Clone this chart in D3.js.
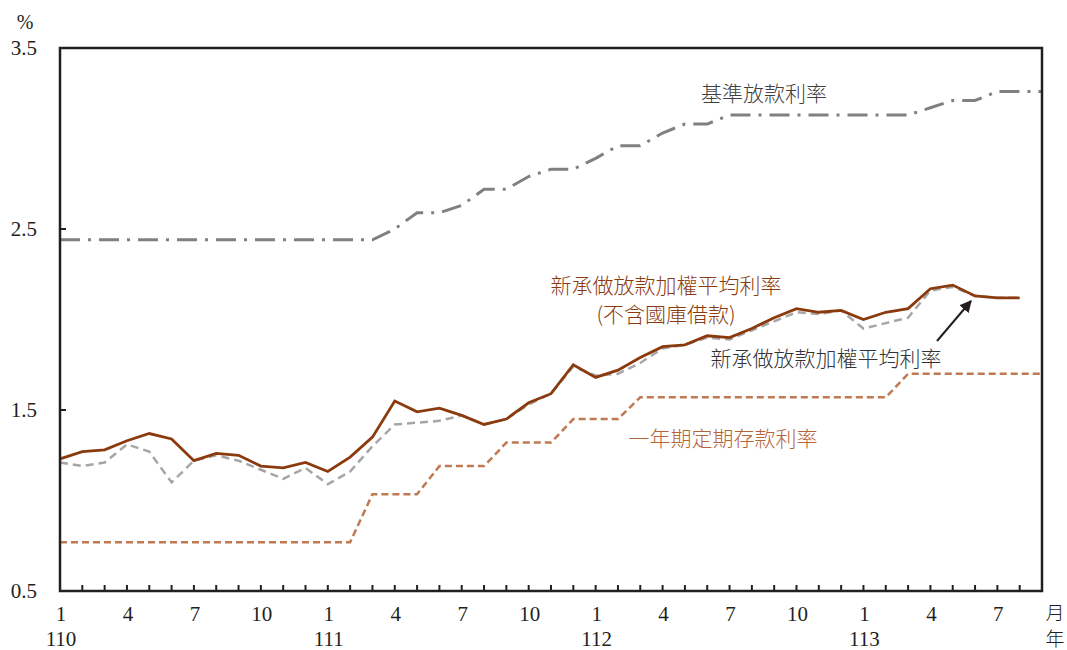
<!DOCTYPE html>
<html>
<head>
<meta charset="utf-8">
<script src="https://cdn.jsdelivr.net/npm/d3@7"></script>
<style>
  body { margin: 0; background: #fff; }
  svg text { font-family: "Liberation Serif", "Noto Sans CJK TC", serif; }
  .cjk { font-family: "Noto Sans CJK TC", sans-serif; font-weight: 300; }
</style>
</head>
<body>
<script>
// interest rate chart, 110/1 - 113/8

// months of each period (index = position on x axis)
var months = [1,2,3,4,5,6,7,8,9,10,11,12,
              1,2,3,4,5,6,7,8,9,10,11,12,
              1,2,3,4,5,6,7,8,9,10,11,12,
              1,2,3,4,5,6,7,8,9];
var years = [110,110,110,110,110,110,110,110,110,110,110,110,
             111,111,111,111,111,111,111,111,111,111,111,111,
             112,112,112,112,112,112,112,112,112,112,112,112,
             113,113,113,113,113,113,113,113,113];
var monthTicks = [1, 4, 7, 10];
var yTicks = [0.5, 1.5, 2.5, 3.5];

// 新承做放款加權平均利率(不含國庫借款)
var newLoanExTreasury = [1.23,1.27,1.28,1.33,1.37,1.34,1.22,1.26,1.25,1.19,1.18,1.21,
                         1.16,1.24,1.35,1.55,1.49,1.51,1.47,1.42,1.45,1.54,1.59,1.75,
                         1.68,1.72,1.79,1.85,1.86,1.91,1.90,1.95,2.01,2.06,2.04,2.05,
                         2.00,2.04,2.06,2.17,2.19,2.13,2.12,2.12];
// 新承做放款加權平均利率
var newLoan = [1.21,1.19,1.21,1.31,1.27,1.10,1.22,1.25,1.22,1.17,1.12,1.18,
               1.09,1.16,1.30,1.42,1.43,1.44,1.47,1.42,1.45,1.53,1.59,1.74,
               1.69,1.70,1.76,1.84,1.86,1.90,1.89,1.94,1.99,2.04,2.03,2.05,
               1.95,1.98,2.01,2.16,2.18,2.13,2.12,2.12];
// 基準放款利率
var baseRate = [2.44,2.44,2.44,2.44,2.44,2.44,2.44,2.44,2.44,2.44,2.44,2.44,
                2.44,2.44,2.44,2.50,2.59,2.59,2.63,2.72,2.72,2.79,2.83,2.83,
                2.89,2.96,2.96,3.03,3.08,3.08,3.13,3.13,3.13,3.13,3.13,3.13,
                3.13,3.13,3.13,3.17,3.21,3.21,3.26,3.26,3.26];
// 一年期定期存款利率
var depositRate = [0.77,0.77,0.77,0.77,0.77,0.77,0.77,0.77,0.77,0.77,0.77,0.77,
                   0.77,0.77,1.035,1.035,1.035,1.19,1.19,1.19,1.32,1.32,1.32,1.45,
                   1.45,1.45,1.57,1.57,1.57,1.57,1.57,1.57,1.57,1.57,1.57,1.57,
                   1.57,1.57,1.70,1.70,1.70,1.70,1.70,1.70,1.70];

var width = 1067,
    height = 650;
var plotLeft = 60, plotRight = 1042, plotTop = 48, plotBottom = 591;

var svg = d3.select("body")
    .append("svg")
    .attr("width", width)
    .attr("height", height);

var x = d3.scaleLinear()
    .domain([0, 44])
    .range([plotLeft, plotRight]);

var y = d3.scaleLinear()
    .domain([0.5, 3.5])
    .range([plotBottom, plotTop]);

var line = d3.line()
    .x(function(d, i){ return x(i); })
    .y(function(d){ return y(d); });

// series lines
svg.append("path")
    .datum(baseRate)
    .attr("d", line)
    .attr("fill", "none")
    .attr("stroke", "#808080")
    .attr("stroke-width", 3)
    .attr("stroke-dasharray", "20,8,3,8");

svg.append("path")
    .datum(depositRate)
    .attr("d", line)
    .attr("fill", "none")
    .attr("stroke", "#BF7A52")
    .attr("stroke-width", 2.5)
    .attr("stroke-dasharray", "7,4");

svg.append("path")
    .datum(newLoan)
    .attr("d", line)
    .attr("fill", "none")
    .attr("stroke", "#A6A6A6")
    .attr("stroke-width", 2.5)
    .attr("stroke-dasharray", "8,5");

svg.append("path")
    .datum(newLoanExTreasury)
    .attr("d", line)
    .attr("fill", "none")
    .attr("stroke", "#8B3A0E")
    .attr("stroke-width", 2.8);

// frame
svg.append("rect")
    .attr("x", plotLeft)
    .attr("y", plotTop)
    .attr("width", plotRight - plotLeft)
    .attr("height", plotBottom - plotTop)
    .attr("fill", "none")
    .attr("stroke", "#231F20")
    .attr("stroke-width", 2.5);

// x ticks (inward)
var xTickIdx = d3.range(1, 44);
svg.selectAll(".xtick")
    .data(xTickIdx)
    .enter()
    .append("line")
    .attr("x1", function(d){ return x(d); })
    .attr("x2", function(d){ return x(d); })
    .attr("y1", plotBottom)
    .attr("y2", plotBottom - 6)
    .attr("stroke", "#231F20")
    .attr("stroke-width", 2);

// month labels
var labelIdx = d3.range(0, 44).filter(function(i){ return monthTicks.indexOf(months[i]) >= 0; });
svg.selectAll(".mlabel")
    .data(labelIdx)
    .enter()
    .append("text")
    .attr("x", function(d){ return x(d) + 1; })
    .attr("y", 621)
    .attr("text-anchor", "middle")
    .attr("font-size", 21)
    .attr("fill", "#231F20")
    .text(function(d){ return months[d]; });

// year labels
svg.selectAll(".ylabel")
    .data(labelIdx.filter(function(i){ return months[i] === 1; }))
    .enter()
    .append("text")
    .attr("x", function(d){ return x(d) + 1; })
    .attr("y", 646)
    .attr("text-anchor", "middle")
    .attr("font-size", 21)
    .attr("fill", "#231F20")
    .text(function(d){ return years[d]; });

svg.append("text")
    .attr("class", "cjk")
    .attr("x", 1055).attr("y", 620)
    .attr("text-anchor", "middle")
    .attr("font-size", 19)
    .attr("fill", "#231F20")
    .text("月");
svg.append("text")
    .attr("class", "cjk")
    .attr("x", 1055).attr("y", 646)
    .attr("text-anchor", "middle")
    .attr("font-size", 19)
    .attr("fill", "#231F20")
    .text("年");

// y ticks and labels
svg.selectAll(".ytick")
    .data(yTicks)
    .enter()
    .append("line")
    .attr("x1", plotLeft)
    .attr("x2", plotLeft + 6)
    .attr("y1", function(d){ return y(d); })
    .attr("y2", function(d){ return y(d); })
    .attr("stroke", "#231F20")
    .attr("stroke-width", 2);

svg.selectAll(".ylab")
    .data(yTicks)
    .enter()
    .append("text")
    .attr("x", 37)
    .attr("y", function(d){ return y(d) + 7; })
    .attr("text-anchor", "end")
    .attr("font-size", 21)
    .attr("fill", "#231F20")
    .text(function(d){ return d.toFixed(1); });

svg.append("text")
    .attr("x", 25).attr("y", 29)
    .attr("text-anchor", "middle")
    .attr("font-size", 20)
    .attr("fill", "#231F20")
    .text("%");

// series labels
svg.append("text")
    .attr("class", "cjk")
    .attr("x", 764).attr("y", 101)
    .attr("text-anchor", "middle")
    .attr("font-size", 21)
    .attr("fill", "#404040")
    .text("基準放款利率");

svg.append("text")
    .attr("class", "cjk")
    .attr("x", 666).attr("y", 293)
    .attr("text-anchor", "middle")
    .attr("font-size", 21)
    .attr("fill", "#8B3A0E")
    .text("新承做放款加權平均利率");
svg.append("text")
    .attr("class", "cjk")
    .attr("x", 666).attr("y", 322)
    .attr("text-anchor", "middle")
    .attr("font-size", 21)
    .attr("fill", "#8B3A0E")
    .text("(不含國庫借款)");

svg.append("text")
    .attr("class", "cjk")
    .attr("x", 826).attr("y", 366)
    .attr("text-anchor", "middle")
    .attr("font-size", 21)
    .attr("fill", "#333333")
    .text("新承做放款加權平均利率");

svg.append("text")
    .attr("class", "cjk")
    .attr("x", 723).attr("y", 446)
    .attr("text-anchor", "middle")
    .attr("font-size", 21)
    .attr("fill", "#B5653A")
    .text("一年期定期存款利率");

// arrow pointing to the gray line
svg.append("defs").append("marker")
    .attr("id", "arrow")
    .attr("viewBox", "0 0 10 10")
    .attr("refX", 9).attr("refY", 5)
    .attr("markerWidth", 6).attr("markerHeight", 6)
    .attr("orient", "auto")
    .append("path")
    .attr("d", "M0,0L10,5L0,10z")
    .attr("fill", "#231F20");

svg.append("line")
    .attr("x1", 937).attr("y1", 341)
    .attr("x2", 971).attr("y2", 301)
    .attr("stroke", "#231F20")
    .attr("stroke-width", 2)
    .attr("marker-end", "url(#arrow)");
</script>
</body>
</html>
